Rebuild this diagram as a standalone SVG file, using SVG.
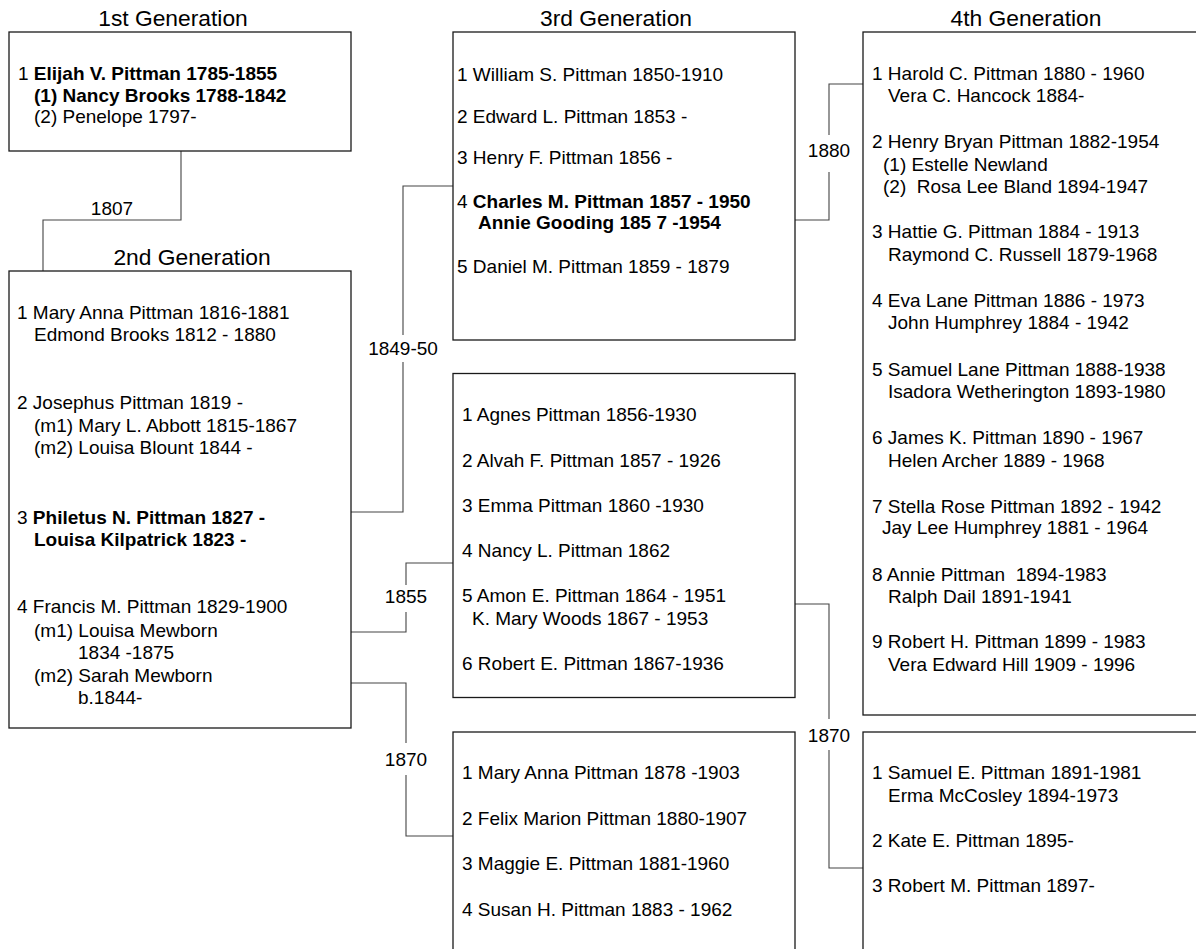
<svg xmlns="http://www.w3.org/2000/svg" width="1196" height="949" viewBox="0 0 1196 949">
<style>
text{font-family:"Liberation Sans",Arial,sans-serif;font-size:19px;fill:#000}
.t{font-size:22.8px;text-anchor:middle}
.lbl{text-anchor:middle}
.b{font-weight:bold}
.box{fill:#fff;stroke:#1a1a1a;stroke-width:1.3}
.con{fill:none;stroke:#444;stroke-width:1.1}
</style>
<rect width="1196" height="949" fill="#fff"/>
<g id="titles">
<text class="t" x="173" y="26">1st Generation</text>
<text class="t" x="192" y="265">2nd Generation</text>
<text class="t" x="616" y="26">3rd Generation</text>
<text class="t" x="1026" y="26">4th Generation</text>
</g>
<g id="connectors">
<path class="con" d="M181 151V220H43V271"/>
<text class="lbl" x="112" y="215">1807</text>
<path class="con" d="M351 512H403V362M403 335V186H453"/>
<text class="lbl" x="403" y="355">1849-50</text>
<path class="con" d="M351 632H406V612M406 585V563H453"/>
<text class="lbl" x="406" y="603">1855</text>
<path class="con" d="M351 683H406V743M406 775V836H453"/>
<text class="lbl" x="406" y="766">1870</text>
<path class="con" d="M795 220H829V172M829 135V84H863"/>
<text class="lbl" x="829" y="157">1880</text>
<path class="con" d="M795 604H829V719M829 750V868H863"/>
<text class="lbl" x="829" y="742">1870</text>
</g>
<g id="gen1">
<rect class="box" x="9" y="32" width="342" height="119"/>
<text x="18" y="80">1 <tspan class="b">Elijah V. Pittman 1785-1855</tspan></text>
<text class="b" x="34" y="101.7">(1) Nancy Brooks 1788-1842</text>
<text x="34" y="123.3">(2) Penelope 1797-</text>
</g>
<g id="gen2">
<rect class="box" x="9" y="271" width="342" height="457"/>
<text x="17" y="319.3">1 Mary Anna Pittman 1816-1881</text>
<text x="34" y="341">Edmond Brooks 1812 - 1880</text>
<text x="17" y="409.3">2 Josephus Pittman 1819 -</text>
<text x="34" y="431.7">(m1) Mary L. Abbott 1815-1867</text>
<text x="34" y="454.3">(m2) Louisa Blount 1844 -</text>
<text x="17" y="524">3 <tspan class="b">Philetus N. Pittman 1827 -</tspan></text>
<text class="b" x="34" y="545.7">Louisa Kilpatrick 1823 -</text>
<text x="17" y="613.3">4 Francis M. Pittman 1829-1900</text>
<text x="34" y="636.7">(m1) Louisa Mewborn</text>
<text x="78" y="659.3">1834 -1875</text>
<text x="34" y="681.7">(m2) Sarah Mewborn</text>
<text x="78" y="704">b.1844-</text>
</g>
<g id="gen3a">
<rect class="box" x="453" y="32" width="342" height="308"/>
<text x="457" y="81">1 William S. Pittman 1850-1910</text>
<text x="457" y="122.7">2 Edward L. Pittman 1853 -</text>
<text x="457" y="164.3">3 Henry F. Pittman 1856 -</text>
<text x="457" y="207.7">4 <tspan class="b">Charles M. Pittman 1857 - 1950</tspan></text>
<text class="b" x="478" y="229.3">Annie Gooding 185 7 -1954</text>
<text x="457" y="273.3">5 Daniel M. Pittman 1859 - 1879</text>
</g>
<g id="gen3b">
<rect class="box" x="453" y="373.5" width="342" height="324"/>
<text x="462" y="421">1 Agnes Pittman 1856-1930</text>
<text x="462" y="466.7">2 Alvah F. Pittman 1857 - 1926</text>
<text x="462" y="511.7">3 Emma Pittman 1860 -1930</text>
<text x="462" y="556.7">4 Nancy L. Pittman 1862</text>
<text x="462" y="602.3">5 Amon E. Pittman 1864 - 1951</text>
<text x="472" y="625">K. Mary Woods 1867 - 1953</text>
<text x="462" y="670">6 Robert E. Pittman 1867-1936</text>
</g>
<g id="gen3c">
<rect class="box" x="453" y="732" width="342" height="240"/>
<text x="462" y="779.3">1 Mary Anna Pittman 1878 -1903</text>
<text x="462" y="825">2 Felix Marion Pittman 1880-1907</text>
<text x="462" y="870">3 Maggie E. Pittman 1881-1960</text>
<text x="462" y="916">4 Susan H. Pittman 1883 - 1962</text>
</g>
<g id="gen4a">
<rect class="box" x="863" y="32" width="360" height="683"/>
<text x="872" y="80">1 Harold C. Pittman 1880 - 1960</text>
<text x="888" y="102.3">Vera C. Hancock 1884-</text>
<text x="872" y="148.3">2 Henry Bryan Pittman 1882-1954</text>
<text x="883" y="171">(1) Estelle Newland</text>
<text x="883" y="193.3" xml:space="preserve">(2)  Rosa Lee Bland 1894-1947</text>
<text x="872" y="238.3">3 Hattie G. Pittman 1884 - 1913</text>
<text x="888" y="261">Raymond C. Russell 1879-1968</text>
<text x="872" y="306.7">4 Eva Lane Pittman 1886 - 1973</text>
<text x="888" y="329.3">John Humphrey 1884 - 1942</text>
<text x="872" y="376">5 Samuel Lane Pittman 1888-1938</text>
<text x="888" y="398.3">Isadora Wetherington 1893-1980</text>
<text x="872" y="444.3">6 James K. Pittman 1890 - 1967</text>
<text x="888" y="466.7">Helen Archer 1889 - 1968</text>
<text x="872" y="512.7">7 Stella Rose Pittman 1892 - 1942</text>
<text x="882" y="534.3">Jay Lee Humphrey 1881 - 1964</text>
<text x="872" y="581" xml:space="preserve">8 Annie Pittman  1894-1983</text>
<text x="888" y="602.7">Ralph Dail 1891-1941</text>
<text x="872" y="648.3">9 Robert H. Pittman 1899 - 1983</text>
<text x="888" y="671">Vera Edward Hill 1909 - 1996</text>
</g>
<g id="gen4b">
<rect class="box" x="863" y="732" width="360" height="240"/>
<text x="872" y="779.3">1 Samuel E. Pittman 1891-1981</text>
<text x="888" y="801.7">Erma McCosley 1894-1973</text>
<text x="872" y="846.7">2 Kate E. Pittman 1895-</text>
<text x="872" y="892.3">3 Robert M. Pittman 1897-</text>
</g>
</svg>
